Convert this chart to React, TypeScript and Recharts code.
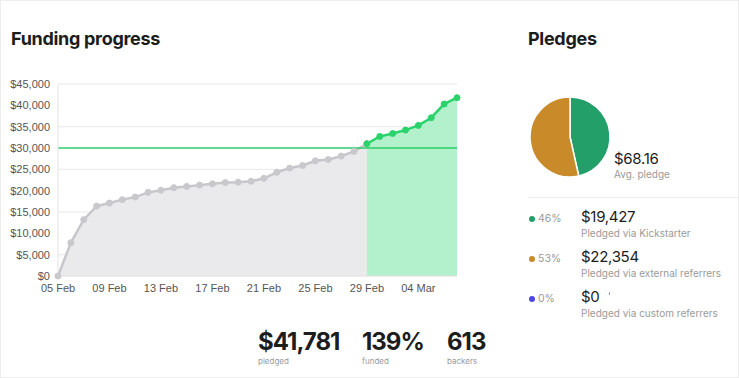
import React from 'react';
import { ComposedChart, Area, XAxis, YAxis, CartesianGrid, ReferenceLine, PieChart, Pie, Cell } from 'recharts';

const dates = [
  '05 Feb', '06 Feb', '07 Feb', '08 Feb', '09 Feb', '10 Feb', '11 Feb', '12 Feb',
  '13 Feb', '14 Feb', '15 Feb', '16 Feb', '17 Feb', '18 Feb', '19 Feb', '20 Feb',
  '21 Feb', '22 Feb', '23 Feb', '24 Feb', '25 Feb', '26 Feb', '27 Feb', '28 Feb',
  '29 Feb', '01 Mar', '02 Mar', '03 Mar', '04 Mar', '05 Mar', '06 Mar', '07 Mar',
];
const pledged = [
  0, 7800, 13200, 16400, 17100, 17900, 18500, 19600,
  20100, 20700, 21000, 21300, 21600, 21900, 22000, 22200,
  22900, 24300, 25300, 25900, 27000, 27300, 28100, 29200,
  31000, 32700, 33400, 34200, 35300, 37100, 40300, 41781,
];
const goal = 30000;
const fundedDate = '29 Feb';
const yTicks = [0, 5000, 10000, 15000, 20000, 25000, 30000, 35000, 40000, 45000];

const sourceNames = ['Pledged via Kickstarter', 'Pledged via external referrers', 'Pledged via custom referrers'];
const sourceValues = [19427, 22354, 0];
const sourcePercents = ['46%', '53%', '0%'];
const sourceColors = ['#23a06a', '#c98a2a', '#4f46e5'];

const stats = [
  { value: '$41,781', label: 'pledged' },
  { value: '139%', label: 'funded' },
  { value: '613', label: 'backers' },
];

const fundedIndex = dates.indexOf(fundedDate);
const chartData = dates.map((date, i) => ({
  date,
  before: i <= fundedIndex ? pledged[i] : null,
  after: i >= fundedIndex ? pledged[i] : null,
}));
const pieData = sourceNames.map((name, i) => ({ name, value: sourceValues[i] }));

const money = (v: number) => `$${v.toLocaleString('en-US')}`;

const UI = 'Inter, "Noto Sans", sans-serif';
const AXIS = '"Liberation Sans", Arial, sans-serif';

export default function App() {
  return (
    <div
      style={{
        position: 'fixed', left: 0, top: 0, width: 739, height: 378, boxSizing: 'border-box',
        border: '1px solid #ededed', background: '#fff', fontFamily: UI, overflow: 'hidden',
      }}
    >
      <div style={{ position: 'absolute', left: 10, top: 27, fontSize: 18, fontWeight: 700, color: '#1c1c1c', letterSpacing: -0.3 }}>
        Funding progress
      </div>

      <div style={{ position: 'absolute', left: -1, top: -1 }}>
        <ComposedChart width={470} height={300} data={chartData} margin={{ top: 84, right: 13, left: 0, bottom: 0 }}>
          <CartesianGrid vertical={false} stroke="#e9e9e9" />
          <XAxis
            dataKey="date"
            interval={3}
            height={24}
            tickLine={false}
            axisLine={{ stroke: '#e3e3e3' }}
            tick={{ fill: '#555', fontSize: 11, fontFamily: AXIS }}
            tickMargin={2}
          />
          <YAxis
            width={58}
            domain={[0, 45000]}
            ticks={yTicks}
            tickFormatter={money}
            tickLine={false}
            axisLine={{ stroke: '#e3e3e3' }}
            tick={{ fill: '#555', fontSize: 11, fontFamily: AXIS }}
          />
          <Area
            type="linear"
            dataKey="before"
            stroke="#c6c6cb"
            strokeWidth={2.5}
            fill="#eaeaed"
            fillOpacity={1}
            dot={{ r: 3, fill: '#c9c9cd', stroke: '#c9c9cd', strokeWidth: 1 }}
            activeDot={false}
            connectNulls={false}
            isAnimationActive={false}
          />
          <Area
            type="linear"
            dataKey="after"
            stroke="#2ad36c"
            strokeWidth={2.5}
            fill="#b3f1cc"
            fillOpacity={1}
            dot={{ r: 3, fill: '#2ad36c', stroke: '#2ad36c', strokeWidth: 1 }}
            activeDot={false}
            connectNulls={false}
            isAnimationActive={false}
          />
          <ReferenceLine y={goal} stroke="#2ecc6b" strokeWidth={1.5} />
        </ComposedChart>
      </div>

      {stats.map((s, i) => (
        <div key={s.label} style={{ position: 'absolute', left: [257, 361, 446][i], top: 326 }}>
          <div style={{ fontSize: 24, fontWeight: 700, color: '#1d1d1d', letterSpacing: -1, lineHeight: '29px' }}>{s.value}</div>
          <div style={{ fontSize: 8, color: '#9a9a9a', lineHeight: '10px' }}>{s.label}</div>
        </div>
      ))}

      <div style={{ position: 'absolute', left: 527, top: 27, fontSize: 18, fontWeight: 700, color: '#1c1c1c', letterSpacing: -0.3 }}>
        Pledges
      </div>

      <div style={{ position: 'absolute', left: 528, top: 94 }}>
        <PieChart width={84} height={84} margin={{ top: 0, right: 0, bottom: 0, left: 0 }}>
          <Pie
            data={pieData}
            dataKey="value"
            cx={41}
            cy={42}
            outerRadius={40}
            innerRadius={0}
            startAngle={90}
            endAngle={-270}
            stroke="#fff"
            strokeWidth={1.5}
            isAnimationActive={false}
          >
            {pieData.map((d, i) => (
              <Cell key={d.name} fill={sourceColors[i]} />
            ))}
          </Pie>
        </PieChart>
      </div>

      <div style={{ position: 'absolute', left: 613, top: 148 }}>
        <div style={{ fontSize: 15, color: '#1d1d1d', lineHeight: '19px', letterSpacing: -0.3 }}>$68.16</div>
        <div style={{ fontSize: 10, color: '#9a9a9a', lineHeight: '13px' }}>Avg. pledge</div>
      </div>

      <div style={{ position: 'absolute', left: 527, top: 196, width: 212, height: 1, background: '#ededed' }} />

      {sourceNames.map((name, i) => (
        <div key={name} style={{ position: 'absolute', left: 528, top: 206 + i * 40, width: 210, height: 36 }}>
          <div style={{ position: 'absolute', left: 0, top: 9, width: 6, height: 6, borderRadius: 3, background: sourceColors[i] }} />
          <div style={{ position: 'absolute', left: 9, top: 5, fontSize: 10.5, color: '#9a9a9a', lineHeight: '14px' }}>{sourcePercents[i]}</div>
          <div style={{ position: 'absolute', left: 52, top: 0, fontSize: 15, color: '#1d1d1d', lineHeight: '20px', whiteSpace: 'nowrap', letterSpacing: -0.3 }}>
            {money(sourceValues[i])}
            {sourceValues[i] === 0 && (
              <span style={{ display: 'inline-block', width: 1, height: 3, background: '#9a9ab8', marginLeft: 9, verticalAlign: 'top', marginTop: 5 }} />
            )}
          </div>
          <div style={{ position: 'absolute', left: 52, top: 20, fontSize: 10, color: '#9a9a9a', lineHeight: '13px', whiteSpace: 'nowrap' }}>{name}</div>
        </div>
      ))}
    </div>
  );
}
